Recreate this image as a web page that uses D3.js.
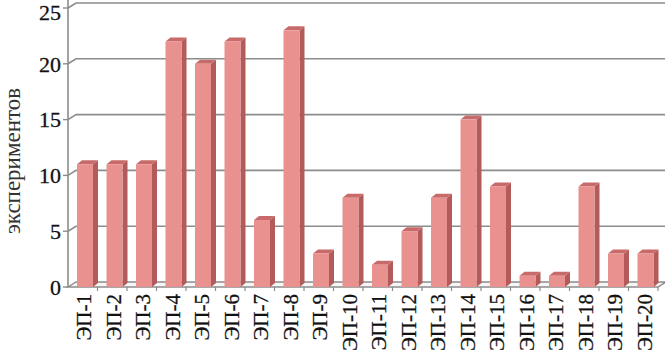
<!DOCTYPE html>
<html>
<head>
<meta charset="utf-8">
<script src="https://cdn.jsdelivr.net/npm/d3@7"></script>
<style>
  body { margin: 0; background: #fff; }
  svg { display: block; }
  text { font-family: "Liberation Serif", "DejaVu Serif", "Times New Roman", serif; fill: #111; }
</style>
</head>
<body>
<svg></svg>
<script>
var categories = ["ЭП-1", "ЭП-2", "ЭП-3", "ЭП-4", "ЭП-5", "ЭП-6", "ЭП-7", "ЭП-8", "ЭП-9", "ЭП-10",
	"ЭП-11", "ЭП-12", "ЭП-13", "ЭП-14", "ЭП-15", "ЭП-16", "ЭП-17", "ЭП-18", "ЭП-19", "ЭП-20"];
var values = [11, 11, 11, 22, 20, 22, 6, 23, 3, 8, 2, 5, 8, 15, 9, 1, 1, 9, 3, 3];
var yTicks = [0, 5, 10, 15, 20, 25];
var yTitle = "экспериментов";

var svgWidth = 665, svgHeight = 355;
var left = 68, right = 658, floorY = 287, topY = 8;
var wallDx = 8, wallDy = -5;       // depth of the back wall
var barDx = 5, barDy = -4;         // depth of each bar
var barWidth = 16, barShift = 9;

var svg = d3.select('svg')
	.attr("width", svgWidth)
	.attr("height", svgHeight);

var xScale = d3.scaleBand()
	.domain(categories)
	.range([left, right]);

var yScale = d3.scaleLinear()
	.domain([0, 25])
	.range([floorY, topY]);

setWalls(svg);
setBars(svg);
setAxes(svg);

// gridlines on the back wall and the floor
function setWalls(svg) {
	var grid = svg.append("g").attr("class", "grid");
	grid.selectAll("path.gridline")
		.data(yTicks.slice(1))
		.enter()
		.append("path")
		.attr("class", "gridline")
		.attr("d", function(d) {
			var y = yScale(d);
			return "M" + left + "," + y + "L" + (left + wallDx) + "," + (y + wallDy) + "L" + svgWidth + "," + (y + wallDy);
		})
		.attr("fill", "none")
		.attr("stroke", "#8c8c8c")
		.attr("stroke-width", 1.6);

	// floor
	grid.append("path")
		.attr("d", "M" + left + "," + floorY + "L" + (left + wallDx) + "," + (floorY + wallDy) +
			"L" + (right + wallDx) + "," + (floorY + wallDy) + "L" + right + "," + floorY + "Z")
		.attr("fill", "#f6f6f6")
		.attr("stroke", "#8c8c8c")
		.attr("stroke-width", 1.4);
}

function setBars(svg) {
	var bars = svg.selectAll("g.bar")
		.data(values)
		.enter()
		.append("g")
		.attr("class", "bar");

	function x0(d, i) { return xScale(categories[i]) + barShift; }

	// side face
	bars.append("polygon")
		.attr("points", function(d, i) {
			var x = x0(d, i) + barWidth, yT = yScale(d), yB = floorY;
			return [[x, yB], [x + barDx, yB + barDy], [x + barDx, yT + barDy], [x, yT]].join(" ");
		})
		.attr("fill", "#b35b5b");

	// top face
	bars.append("polygon")
		.attr("points", function(d, i) {
			var x = x0(d, i), yT = yScale(d);
			return [[x, yT], [x + barDx, yT + barDy], [x + barWidth + barDx, yT + barDy], [x + barWidth, yT]].join(" ");
		})
		.attr("fill", "#c86a6a");

	// front face
	bars.append("rect")
		.attr("x", x0)
		.attr("y", function(d) { return yScale(d); })
		.attr("width", barWidth)
		.attr("height", function(d) { return floorY - yScale(d); })
		.attr("fill", "#e8918f");
}

function setAxes(svg) {
	var axisColor = "#8c8c8c";

	// left wall line
	svg.append("line")
		.attr("x1", left).attr("x2", left)
		.attr("y1", 0).attr("y2", floorY)
		.attr("stroke", axisColor)
		.attr("stroke-width", 1.6);

	var yAxis = svg.append("g").attr("class", "y-axis");
	yAxis.selectAll("line")
		.data(yTicks)
		.enter()
		.append("line")
		.attr("x1", left - 5).attr("x2", left)
		.attr("y1", function(d) { return yScale(d); })
		.attr("y2", function(d) { return yScale(d); })
		.attr("stroke", axisColor)
		.attr("stroke-width", 1.4);
	yAxis.selectAll("text")
		.data(yTicks)
		.enter()
		.append("text")
		.attr("x", left - 7)
		.attr("y", function(d) { return Math.max(yScale(d), 12); })   // keep the top label inside
		.attr("dy", "0.35em")
		.attr("text-anchor", "end")
		.style("font-size", "22px")
		.style("stroke", "#111")
		.style("stroke-width", 0.3)
		.text(function(d) { return d; });

	// category ticks under the floor
	var xAxis = svg.append("g").attr("class", "x-axis");
	xAxis.selectAll("line")
		.data(categories)
		.enter()
		.append("line")
		.attr("x1", function(d) { return xScale(d) + xScale.bandwidth(); })
		.attr("x2", function(d) { return xScale(d) + xScale.bandwidth(); })
		.attr("y1", floorY).attr("y2", floorY + 4)
		.attr("stroke", axisColor)
		.attr("stroke-width", 1.2);
	xAxis.selectAll("text")
		.data(categories)
		.enter()
		.append("text")
		.attr("transform", function(d) {
			return "translate(" + (xScale(d) + xScale.bandwidth() / 2 + 1) + "," + (floorY + 7) + ") rotate(-90)";
		})
		.attr("dy", "0.35em")
		.attr("text-anchor", "end")
		.style("font-size", "21px")
		.style("stroke", "#111")
		.style("stroke-width", 0.3)
		.text(function(d) { return d; });

	svg.append("text")
		.attr("transform", "translate(12,161) rotate(-90)")
		.attr("dy", "0.35em")
		.attr("text-anchor", "middle")
		.style("font-size", "23px")
		.style("fill", "#333")
		.text(yTitle);
}
</script>
</body>
</html>
